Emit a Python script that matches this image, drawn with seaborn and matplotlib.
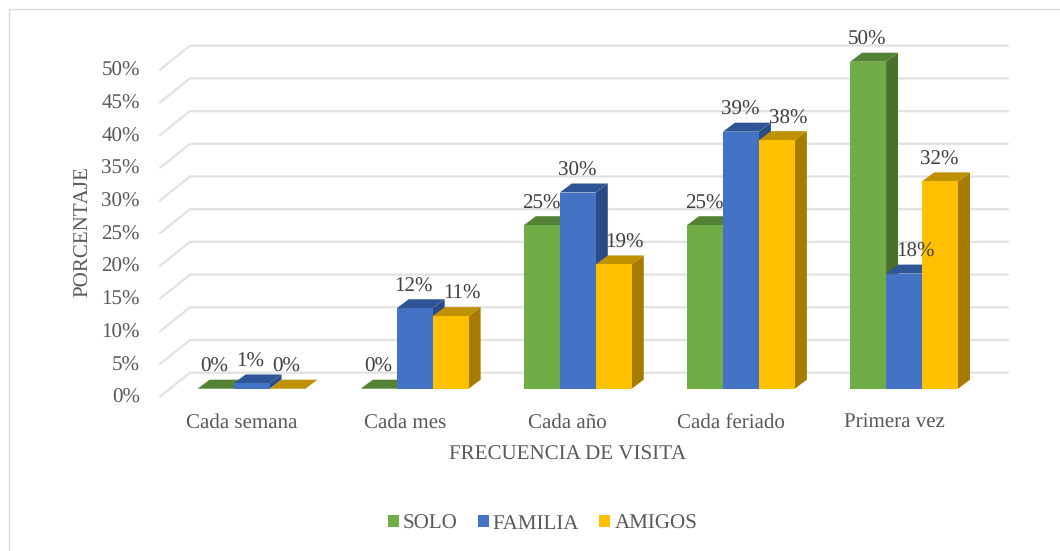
import matplotlib
matplotlib.use("Agg")
import matplotlib.pyplot as plt
from matplotlib.lines import Line2D
from matplotlib.patches import Polygon
from matplotlib.transforms import ScaledTranslation
import pandas as pd
import seaborn as sns

categories = ["Cada semana", "Cada mes", "Cada año", "Cada feriado", "Primera vez"]
solo = [0, 0, 25, 25, 50]
familia = [0.8, 12.3, 30, 39.3, 17.6]
amigos = [0, 11.1, 19, 38, 31.7]
series_names = ["SOLO", "FAMILIA", "AMIGOS"]
y_ticks = [0, 5, 10, 15, 20, 25, 30, 35, 40, 45, 50]
front_colors = ["#70AD47", "#4472C4", "#FFC000"]
top_colors = ["#548235", "#2F5597", "#BF9000"]
side_colors = ["#4A7129", "#2A4C86", "#A67C00"]

W, H = 1060, 551
sns.set_theme(style="white")
plt.rcParams["font.family"] = ["Liberation Serif", "DejaVu Sans"]
plt.rcParams["text.hinting"] = "none"
plt.rcParams["text.hinting_factor"] = 1
TXT = "#595959"
FS = 15.2

df = pd.DataFrame({
    "cat": categories * 3,
    "serie": [s for s in series_names for _ in categories],
    "val": solo + familia + amigos,
})

fig = plt.figure(figsize=(W / 100, H / 100), dpi=100, facecolor="white")
left, right, top, bottom = 170, 985.6, 61.7, 388.7
ax = fig.add_axes([left / W, 1 - bottom / H, (right - left) / W, (bottom - top) / H])
ax.patch.set_alpha(0)
sns.barplot(data=df, x="cat", y="val", hue="serie", order=categories, hue_order=series_names,
            palette=front_colors, saturation=1, width=0.6615, gap=0, dodge=True, ax=ax,
            linewidth=0, errorbar=None)
ax.set_xlim(-0.5, 4.5)
ax.set_ylim(0, 50)

PX_X = 5 / (right - left)      # data units per pixel
PX_Y = 50 / (bottom - top)

# back wall gridlines with the floor/wall diagonal
x_front = -0.5 - 10 * PX_X
x_back = -0.5 + 20 * PX_X
x_end = -0.5 + (1008 - left) * PX_X
for v in y_ticks:
    yb = v + 16 * PX_Y
    yf = v - 8 * PX_Y
    ax.plot([x_front, x_back, x_end], [yf, yb, yb], color="#E2E2E2", lw=1.6,
            clip_on=False, zorder=1, solid_joinstyle="miter")

# bar depth faces
dx, dy = 12 * PX_X, 9 * PX_Y
shifted = {(1, 2), (2, 2), (3, 2), (4, 1)}
for i, cont in enumerate(ax.containers[:3]):
    for j, bar in enumerate(cont):
        x0, w, v = bar.get_x(), bar.get_width(), bar.get_height()
        x1 = x0 + w
        bar.set_zorder(3 + i + 0.5)
        bar.set_clip_on(False)
        ax.add_patch(Polygon([(x1, 0), (x1 + dx, dy), (x1 + dx, v + dy), (x1, v)],
                             closed=True, fc=side_colors[i], ec="none", clip_on=False, zorder=3 + i))
        ax.add_patch(Polygon([(x0, v), (x0 + dx, v + dy), (x1 + dx, v + dy), (x1, v)],
                             closed=True, fc=top_colors[i], ec="none", clip_on=False, zorder=3 + i))
        lx = x0 + w / 2 - 1 * PX_X + (12 * PX_X if (j, i) in shifted else 0)
        ax.text(lx, v + dy + 13 * PX_Y, f"{v:.0f}%", ha="center", va="center",
                fontsize=FS, color="#404040", zorder=10, clip_on=False)

# axes text
sns.despine(ax=ax, left=True, bottom=True)
ax.set_yticks(y_ticks)
ax.set_yticklabels([f"{v}%" for v in y_ticks])
ax.tick_params(axis="y", length=0, pad=21.6, labelsize=FS, labelcolor=TXT)
ax.tick_params(axis="x", length=0, pad=18, labelsize=FS, labelcolor=TXT)
off_y = ScaledTranslation(0, -7 / 100, fig.dpi_scale_trans)
off_x = ScaledTranslation(-10 / 100, 0, fig.dpi_scale_trans)
for lab in ax.get_yticklabels():
    lab.set_transform(lab.get_transform() + off_y)
for lab in ax.get_xticklabels():
    lab.set_transform(lab.get_transform() + off_x)

ax.set_xlabel("FRECUENCIA DE VISITA", fontsize=FS, color=TXT)
ax.set_ylabel("PORCENTAJE", fontsize=FS, color=TXT)
ax.xaxis.set_label_coords(568 / W, 1 - 454.5 / H, transform=fig.transFigure)
ax.xaxis.label.set_verticalalignment("center")
ax.yaxis.set_label_coords(83 / W, 1 - 232 / H, transform=fig.transFigure)
ax.yaxis.label.set_verticalalignment("center")

# legend from the bars
handles, labels = ax.get_legend_handles_labels()
leg = fig.legend(handles, labels, loc="center", bbox_to_anchor=(542.5 / W, 1 - 523.5 / H), ncol=3,
                 frameon=False, fontsize=FS, handlelength=0.52, handleheight=0.52, handletextpad=0.2,
                 columnspacing=0.95, labelcolor=TXT, borderpad=0)
if ax.get_legend():
    ax.get_legend().remove()

# chart frame: only the top and left edges are visible in the crop
frame_x = [9 / W, 9 / W, 1.0]
frame_y = [0.0, 1 - 9 / H, 1 - 9 / H]
fig.add_artist(Line2D(frame_x, frame_y, color="#D9D9D9", lw=1.0))

fig.savefig("out.png", dpi=100)
